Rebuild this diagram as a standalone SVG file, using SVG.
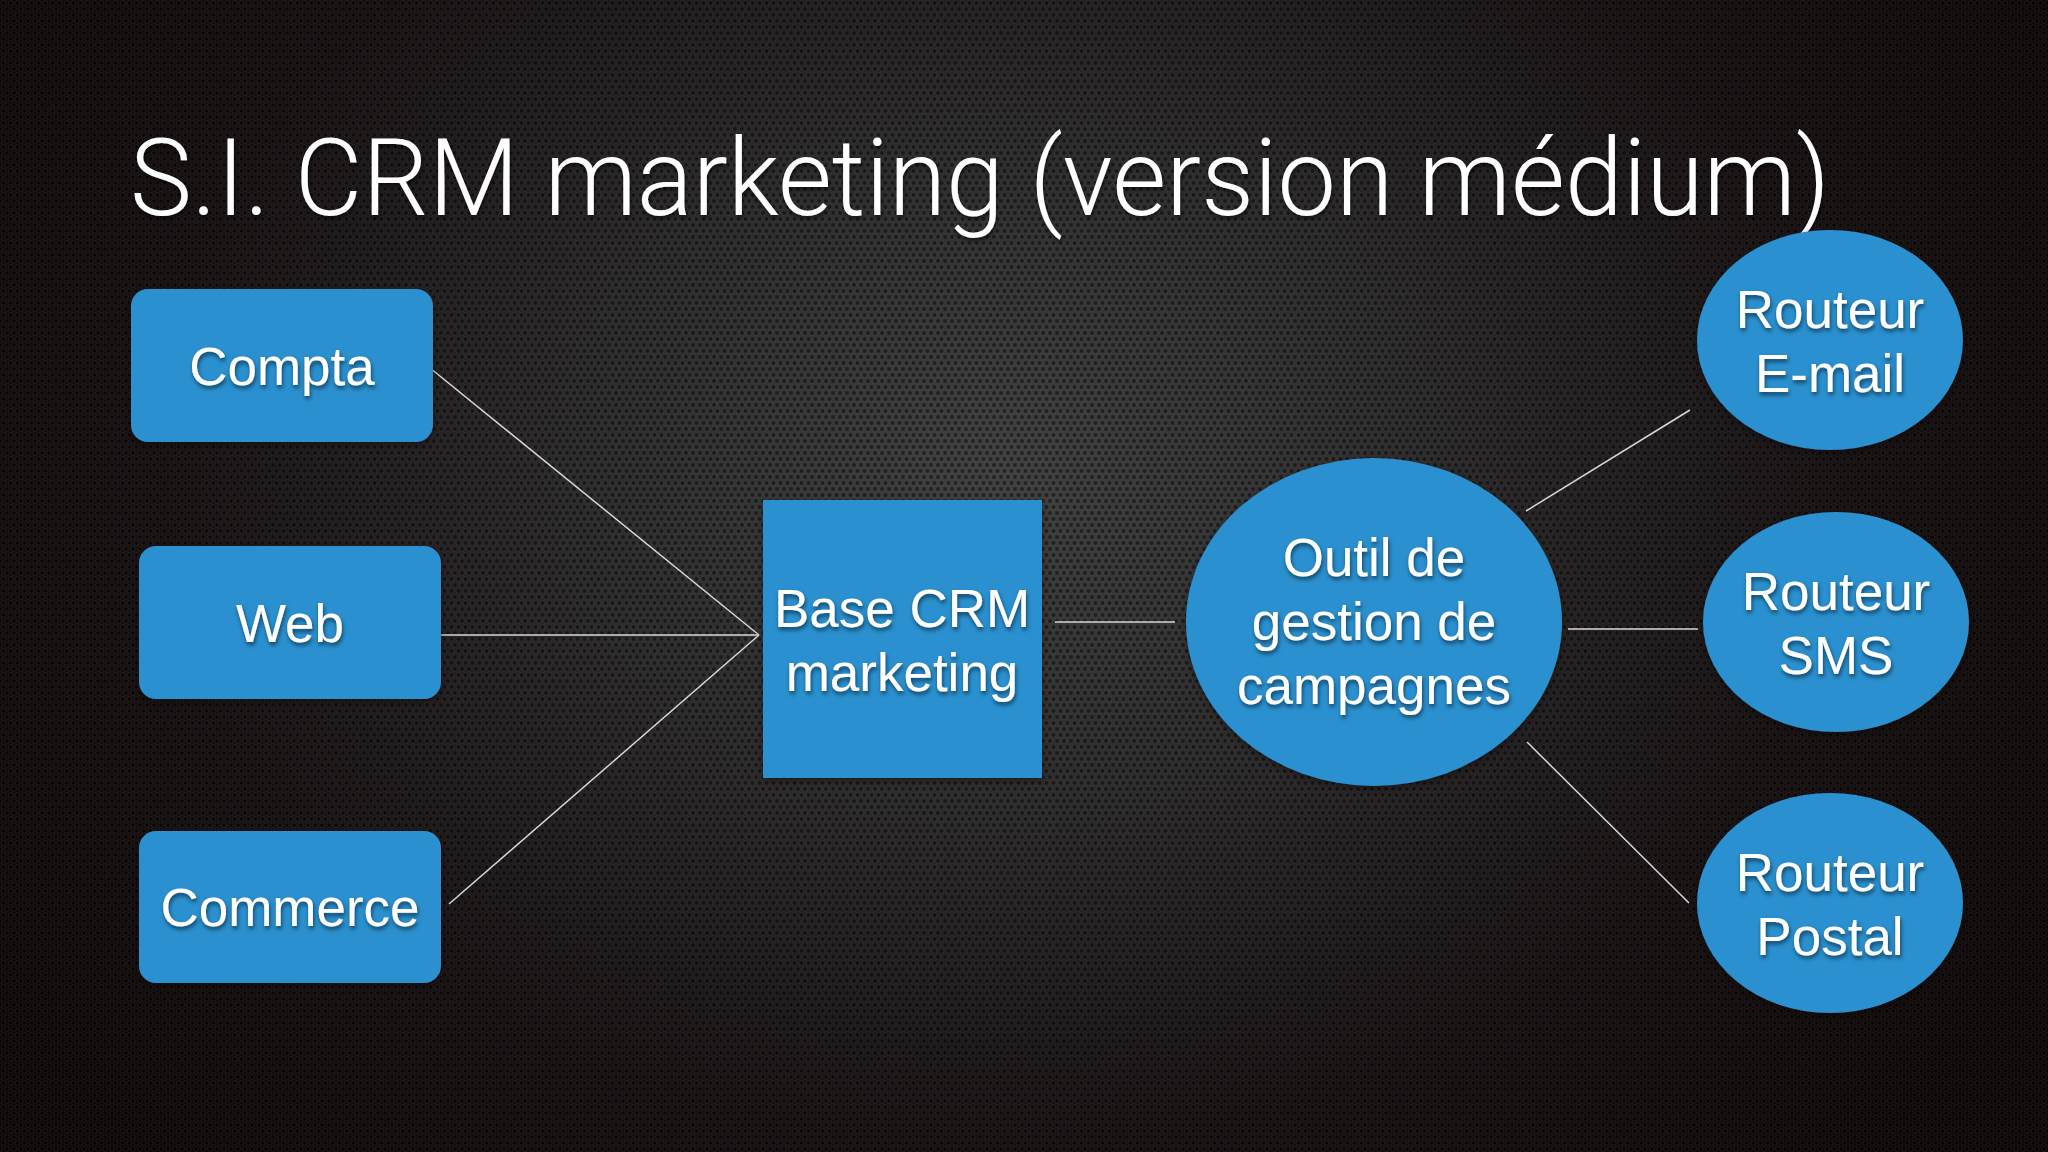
<svg xmlns="http://www.w3.org/2000/svg" width="2048" height="1152" viewBox="0 0 2048 1152">
  <defs>
    <radialGradient id="bg" cx="1000" cy="470" r="1200" gradientUnits="userSpaceOnUse" gradientTransform="translate(1000 470) scale(1 0.8) translate(-1000 -470)">
      <stop offset="0" stop-color="#424242"/>
      <stop offset="0.35" stop-color="#2d2b2c"/>
      <stop offset="0.7" stop-color="#171011"/>
      <stop offset="1" stop-color="#0f0707"/>
    </radialGradient>
    <pattern id="mesh" width="7" height="12" patternUnits="userSpaceOnUse">
      <circle cx="3.5" cy="3" r="2.4" fill="#000" fill-opacity="0.45" stroke="#a0a0a0" stroke-opacity="0.14" stroke-width="0.8"/>
      <circle cx="0" cy="9" r="2.4" fill="#000" fill-opacity="0.45" stroke="#a0a0a0" stroke-opacity="0.14" stroke-width="0.8"/>
      <circle cx="7" cy="9" r="2.4" fill="#000" fill-opacity="0.45" stroke="#a0a0a0" stroke-opacity="0.14" stroke-width="0.8"/>
    </pattern>
    <filter id="tshadow" x="-10%" y="-30%" width="120%" height="160%">
      <feDropShadow dx="1" dy="3" stdDeviation="2" flood-color="#000" flood-opacity="0.55"/>
    </filter>
    <filter id="nshadow" x="-10%" y="-10%" width="120%" height="130%">
      <feDropShadow dx="0" dy="3" stdDeviation="4" flood-color="#000" flood-opacity="0.4"/>
    </filter>
  </defs>
  <style>
    .node { fill: #2b90cf; filter: url(#nshadow); }
    .label { font-family: "Liberation Sans", Arial, Helvetica, sans-serif; font-size: 53px; fill: #ffffff; text-anchor: middle; filter: url(#tshadow); }
    .title { font-family: Roboto, "Liberation Sans", Arial, sans-serif; font-weight: 300; font-size: 108px; fill: #ffffff; filter: url(#tshadow); }
    .conn { stroke: #d8d8d8; stroke-width: 1.5; fill: none; }
  </style>

  <rect x="0" y="0" width="2048" height="1152" fill="url(#bg)"/>
  <rect x="0" y="0" width="2048" height="1152" fill="url(#mesh)"/>

  <text class="title" x="130" y="215" textLength="1700" lengthAdjust="spacingAndGlyphs">S.I. CRM marketing (version médium)</text>

  <g id="connectors">
    <line class="conn" x1="430" y1="368" x2="759" y2="635"/>
    <line class="conn" x1="441" y1="635" x2="759" y2="635"/>
    <line class="conn" x1="449" y1="904" x2="759" y2="635"/>
    <line class="conn" x1="1055" y1="622" x2="1175" y2="622"/>
    <line class="conn" x1="1526" y1="511" x2="1690" y2="410"/>
    <line class="conn" x1="1568" y1="629" x2="1698" y2="629"/>
    <line class="conn" x1="1527" y1="742" x2="1689" y2="903"/>
  </g>

  <g id="compta">
    <rect class="node" x="131" y="289" width="302" height="153" rx="17"/>
    <text class="label" x="282" y="385">Compta</text>
  </g>
  <g id="web">
    <rect class="node" x="139" y="546" width="302" height="153" rx="17"/>
    <text class="label" x="290" y="642">Web</text>
  </g>
  <g id="commerce">
    <rect class="node" x="139" y="831" width="302" height="152" rx="17"/>
    <text class="label" x="290" y="926">Commerce</text>
  </g>
  <g id="base-crm">
    <rect class="node" x="763" y="500" width="279" height="278"/>
    <text class="label" x="902" y="627">Base CRM</text>
    <text class="label" x="902" y="691">marketing</text>
  </g>
  <g id="outil">
    <ellipse class="node" cx="1374" cy="622" rx="188" ry="164"/>
    <text class="label" x="1374" y="576">Outil de</text>
    <text class="label" x="1374" y="640">gestion de</text>
    <text class="label" x="1374" y="704">campagnes</text>
  </g>
  <g id="routeur-email">
    <ellipse class="node" cx="1830" cy="340" rx="133" ry="110"/>
    <text class="label" x="1830" y="328">Routeur</text>
    <text class="label" x="1830" y="392">E-mail</text>
  </g>
  <g id="routeur-sms">
    <ellipse class="node" cx="1836" cy="622" rx="133" ry="110"/>
    <text class="label" x="1836" y="610">Routeur</text>
    <text class="label" x="1836" y="674">SMS</text>
  </g>
  <g id="routeur-postal">
    <ellipse class="node" cx="1830" cy="903" rx="133" ry="110"/>
    <text class="label" x="1830" y="891">Routeur</text>
    <text class="label" x="1830" y="955">Postal</text>
  </g>
</svg>
